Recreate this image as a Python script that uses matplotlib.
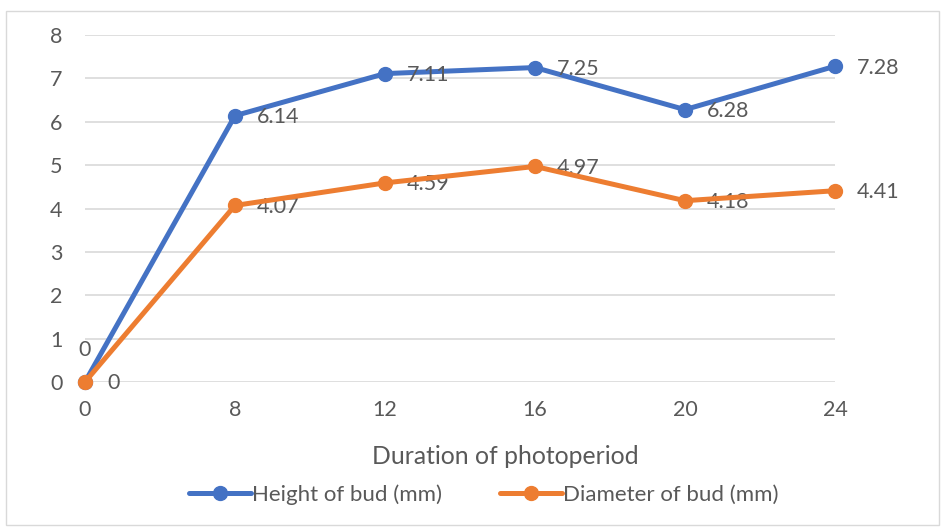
import matplotlib.pyplot as plt
from matplotlib.patches import Rectangle

# photoperiod (hours) and bud measurements
durations = ["0", "8", "12", "16", "20", "24"]
height_mm = [0, 6.14, 7.11, 7.25, 6.28, 7.28]
diameter_mm = [0, 4.07, 4.59, 4.97, 4.18, 4.41]
y_ticks = [0, 1, 2, 3, 4, 5, 6, 7, 8]

blue = "#4472C4"
orange = "#ED7D31"
txt = "#595959"
fs = 15.5
plt.rcParams['font.family'] = ['Lato', 'DejaVu Sans']

fig = plt.figure(figsize=(9.45, 5.28), dpi=100)
ax = fig.add_axes([0.0899, 0.2765, 0.7937, 0.6572])

# chart border
fig.patches.append(Rectangle((0.006, 0.006), 0.988, 0.974, transform=fig.transFigure,
                             fill=False, edgecolor="#D9D9D9", linewidth=1))

x = list(range(len(durations)))
ax.plot(x, height_mm, color=blue, lw=3.6, marker="o", ms=10, label="Height of bud (mm)",
        solid_capstyle="round", zorder=3, clip_on=False)
ax.plot(x, diameter_mm, color=orange, lw=3.6, marker="o", ms=10, label="Diameter of bud (mm)",
        solid_capstyle="round", zorder=4, clip_on=False)

# data labels
for i, v in enumerate(height_mm):
    if i == 0:
        ax.annotate(f"{v:g}", (i, v), xytext=(0, 16), textcoords="offset points",
                    ha="center", va="bottom", fontsize=fs, color=txt)
    else:
        ax.annotate(f"{v:g}", (i, v), xytext=(16, -1), textcoords="offset points",
                    ha="left", va="center", fontsize=fs, color=txt)
for i, v in enumerate(diameter_mm):
    ax.annotate(f"{v:g}", (i, v), xytext=(16, -1), textcoords="offset points",
                ha="left", va="center", fontsize=fs, color=txt)

ax.set_xlim(0, len(durations) - 1)
ax.set_ylim(0, 8)
ax.set_xticks(x)
ax.set_xticklabels(durations)
ax.set_yticks(y_ticks)
ax.tick_params(length=0, labelsize=fs, colors=txt)
ax.tick_params(axis="y", pad=16)
ax.tick_params(axis="x", pad=13)
ax.grid(axis="y", color="#D9D9D9", lw=1.2)
ax.set_axisbelow(True)
for s in ax.spines.values():
    s.set_visible(False)

ax.set_xlabel("Duration of photoperiod", fontsize=17.8, color=txt)
ax.xaxis.set_label_coords(0.56, -0.215)
ax.xaxis.label.set_va("center")

leg = fig.legend(loc="center", bbox_to_anchor=(0.512, 0.064), ncol=2, frameon=False,
                 fontsize=16, handlelength=2.8, handletextpad=0.05, columnspacing=2.6,
                 labelcolor=txt)

fig.savefig("out.png", dpi=100)
